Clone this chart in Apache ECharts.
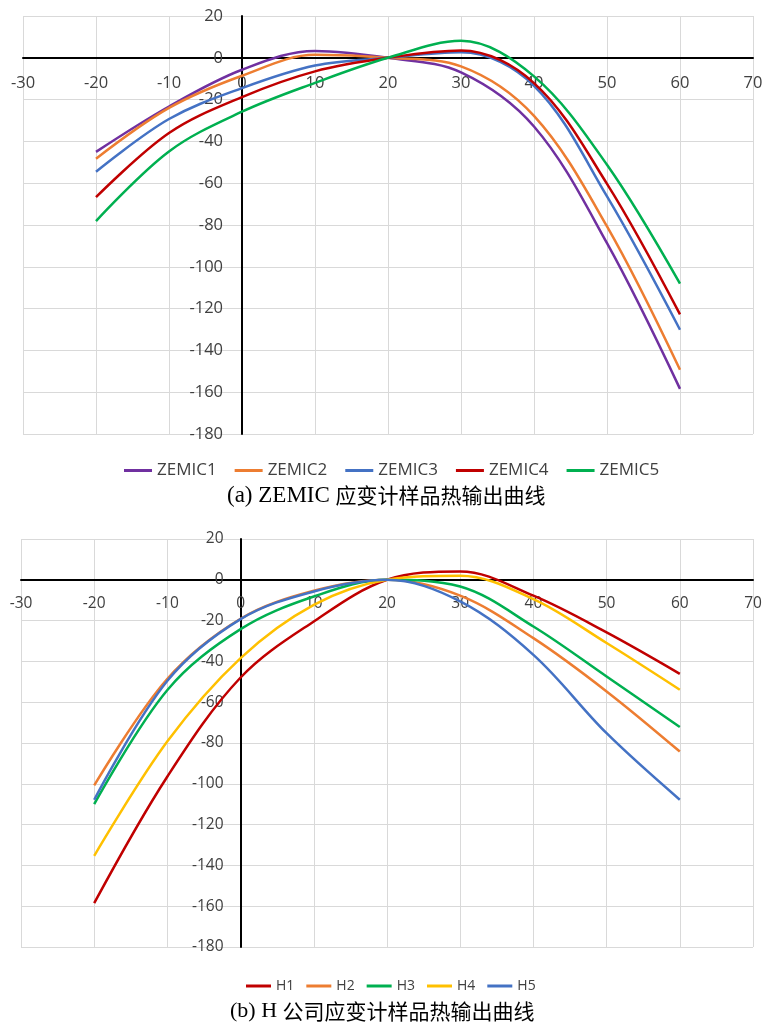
<!DOCTYPE html>
<html>
<head>
<meta charset="utf-8">
<script src="https://cdn.jsdelivr.net/npm/echarts@6/dist/echarts.min.js"></script>
<style>
html,body{margin:0;padding:0;background:#fff;}
#c{width:766px;height:1023px;}
</style>
</head>
<body>
<div id="c"></div>
<script>
// ---- data ----
var temps = [-20, -10, 0, 10, 20, 30, 40, 50, 60];

var zemicNames = ['ZEMIC1', 'ZEMIC2', 'ZEMIC3', 'ZEMIC4', 'ZEMIC5'];
var zemic1 = [-45.0, -23.3, -5.7, 3.3, 0, -7.0, -32.9, -88.7, -158.4];
var zemic2 = [-48.3, -24.0, -8.6, 1.4, 0, -4.1, -27.8, -80.7, -149.3];
var zemic3 = [-54.5, -29.3, -14.5, -3.7, 0, 2.6, -13.4, -66.3, -130.1];
var zemic4 = [-66.7, -36.0, -18.8, -6.5, 0, 3.5, -12.1, -60.3, -122.8];
var zemic5 = [-78.1, -44.8, -25.8, -12.0, 0, 8.1, -8.9, -51.2, -108.1];

var hNames = ['H1', 'H2', 'H3', 'H4', 'H5'];
var h1 = [-158.5, -96.4, -47.9, -20.4, 0, 4.1, -7.8, -25.8, -46.1];
var h2 = [-100.8, -48.5, -19.1, -5.4, 0, -7.8, -28.6, -54.7, -84.2];
var h3 = [-110.0, -54.0, -24.2, -8.2, 0, -3.3, -22.9, -47.4, -72.2];
var h4 = [-135.3, -79.2, -38.4, -12.3, 0, 2.0, -9.5, -31.0, -53.9];
var h5 = [-107.8, -49.5, -19.3, -5.7, 0, -10.6, -36.8, -75.2, -107.8];

var xTicks = { min: -30, max: 70, interval: 10 };
var yTicks = { min: -180, max: 20, interval: 20 };

var captionA = ['(a) ZEMIC ', '应变计样品热输出曲线'];
var captionB = ['(b) H ', '公司应变计样品热输出曲线'];

// ---- styles / layout ----
var zemicColors = ['#7030A0', '#ED7D31', '#4472C4', '#C00000', '#00B050'];
var hColors = ['#C00000', '#ED7D31', '#00B050', '#FFC000', '#4472C4'];
var FONT = '"Open Sans", "Noto Sans", sans-serif';
var grids = [
  { left: 23, top: 16, width: 730, height: 418 },
  { left: 21, top: 539, width: 732, height: 408 }
];

function pairs(vals) {
  return temps.map(function (t, i) { return [t, vals[i]]; });
}

// shift the axes so that they cross at the origin (labels follow the line)
function xOffset(g) {
  var frac = (0 - yTicks.min) / (yTicks.max - yTicks.min);
  return -(g.height * frac);
}
function yOffset(g) {
  var frac = (0 - xTicks.min) / (xTicks.max - xTicks.min);
  return -(g.width * frac);
}

function xAxisOpt(gi, fs, margin) {
  return {
    type: 'value', gridIndex: gi, position: 'bottom', offset: xOffset(grids[gi]),
    min: xTicks.min, max: xTicks.max, interval: xTicks.interval,
    axisLine: { onZero: false, lineStyle: { color: '#000', width: 2 } },
    axisTick: { show: false },
    axisLabel: { color: '#404040', fontSize: fs, fontFamily: FONT, margin: margin, showMinLabel: true, showMaxLabel: true, hideOverlap: false },
    splitLine: { show: true, lineStyle: { color: '#D9D9D9', width: 1 } }
  };
}
function yAxisOpt(gi, fs, margin) {
  return {
    type: 'value', gridIndex: gi, position: 'left', offset: yOffset(grids[gi]),
    min: yTicks.min, max: yTicks.max, interval: yTicks.interval,
    axisLine: { onZero: false, lineStyle: { color: '#000', width: 2 } },
    axisTick: { show: false },
    axisLabel: { color: '#404040', fontSize: fs, fontFamily: FONT, margin: margin, showMinLabel: true, showMaxLabel: true, hideOverlap: false },
    splitLine: { show: true, lineStyle: { color: '#D9D9D9', width: 1 } }
  };
}

var series = [];
[zemic1, zemic2, zemic3, zemic4, zemic5].forEach(function (v, i) {
  series.push({
    name: zemicNames[i], type: 'line', xAxisIndex: 0, yAxisIndex: 0,
    data: pairs(v), smooth: 0.35, symbol: 'none',
    lineStyle: { color: zemicColors[i], width: 2.5 }, itemStyle: { color: zemicColors[i] }
  });
});
[h1, h2, h3, h4, h5].forEach(function (v, i) {
  series.push({
    name: hNames[i], type: 'line', xAxisIndex: 1, yAxisIndex: 1,
    data: pairs(v), smooth: 0.35, symbol: 'none',
    lineStyle: { color: hColors[i], width: 2.5 }, itemStyle: { color: hColors[i] }
  });
});

var chart = echarts.init(document.getElementById('c'), null, { renderer: 'canvas' });
chart.setOption({
  animation: false,
  backgroundColor: '#fff',
  grid: grids.map(function (g) {
    return { left: g.left, top: g.top, width: g.width, height: g.height, containLabel: false, outerBoundsMode: 'none' };
  }),
  xAxis: [xAxisOpt(0, 16.5, 17), xAxisOpt(1, 15.5, 16)],
  yAxis: [yAxisOpt(0, 16.5, 19), yAxisOpt(1, 15.5, 17)],
  legend: [
    {
      data: zemicNames, left: 119, top: 457, icon: 'rect', itemWidth: 28, itemHeight: 3, itemGap: 18,
      textStyle: { fontSize: 17, color: '#404040', fontFamily: FONT }
    },
    {
      data: hNames, left: 241, top: 974, icon: 'rect', itemWidth: 25, itemHeight: 3, itemGap: 12,
      textStyle: { fontSize: 14, color: '#404040', fontFamily: FONT }
    }
  ],
  graphic: [
    {
      type: 'text', left: 227, top: 484,
      style: {
        text: '{a|' + captionA[0] + '}{c|' + captionA[1] + '}',
        rich: {
          a: { fontSize: 23, fontFamily: '"Liberation Serif", serif', fill: '#000' },
          c: { fontSize: 21, fontFamily: '"Noto Sans CJK SC", sans-serif', fill: '#000' }
        }
      }
    },
    {
      type: 'text', left: 230, top: 1000,
      style: {
        text: '{a|' + captionB[0] + '}{c|' + captionB[1] + '}',
        rich: {
          a: { fontSize: 22, fontFamily: '"Liberation Serif", serif', fill: '#000' },
          c: { fontSize: 21, fontFamily: '"Noto Sans CJK SC", sans-serif', fill: '#000' }
        }
      }
    }
  ],
  series: series
});
</script>
</body>
</html>
